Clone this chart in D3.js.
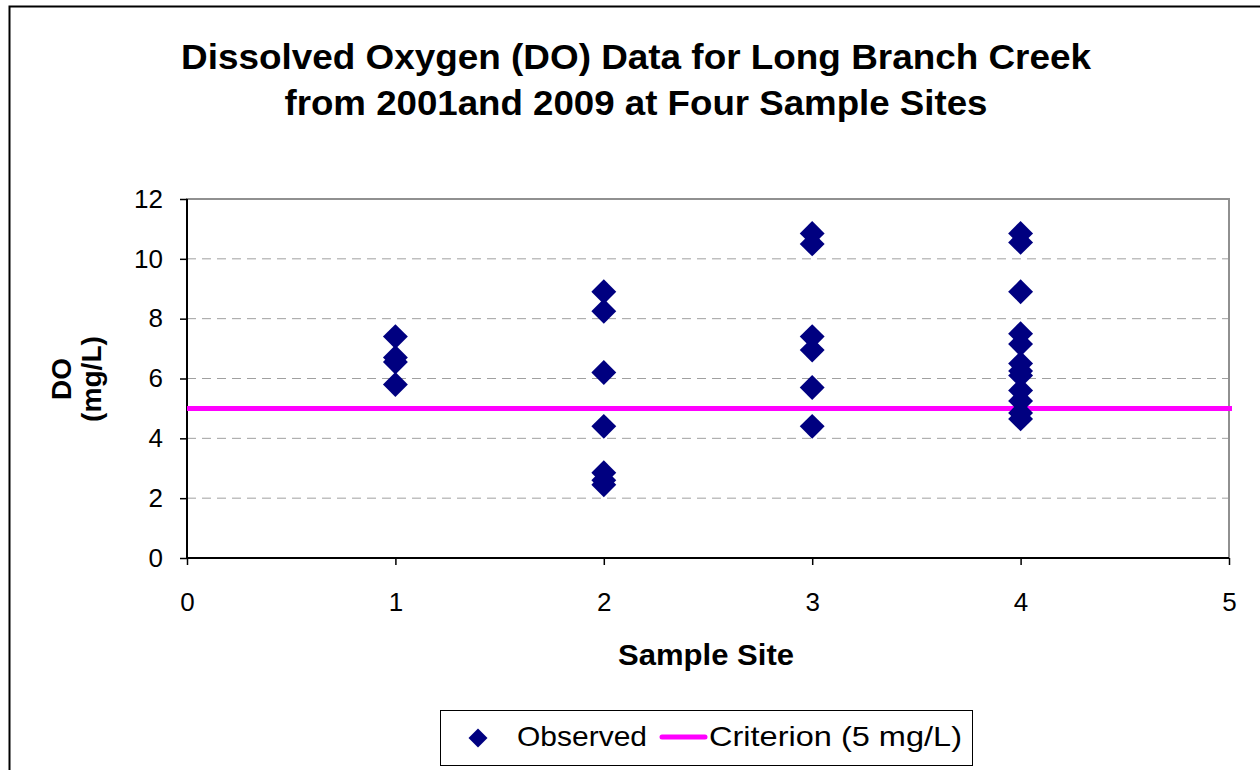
<!DOCTYPE html>
<html>
<head>
<meta charset="utf-8">
<script src="https://cdn.jsdelivr.net/npm/d3@7"></script>
<style>
  body { margin: 0; background: #fff; }
  text { font-family: "Liberation Sans", Arial, sans-serif; }
</style>
</head>
<body>
<div id="chart"></div>
<script>
const titleLines = ["Dissolved Oxygen (DO) Data for Long Branch Creek", "from 2001and 2009 at Four Sample Sites"];
const sites = [1, 1, 1, 1, 2, 2, 2, 2, 2, 2, 2, 3, 3, 3, 3, 3, 3, 4, 4, 4, 4, 4, 4, 4, 4, 4, 4, 4, 4];
const doValues = [7.4, 6.7, 6.55, 5.8, 8.9, 8.25, 6.2, 4.4, 2.85, 2.6, 2.45, 10.85, 10.5, 7.4, 6.95, 5.7, 4.4,
  10.85, 10.55, 8.9, 7.5, 7.15, 6.5, 6.25, 6.1, 5.6, 5.25, 4.85, 4.65];
const criterion = 5;
const xTicks = [0, 1, 2, 3, 4, 5];
const yTicks = [0, 2, 4, 6, 8, 10, 12];

const width = 1260, height = 770;
const plot = { left: 187, right: 1229, top: 199, bottom: 558 };

const svg = d3.select("#chart").append("svg")
  .attr("width", width)
  .attr("height", height);

// outer chart border (runs off the right/bottom edge)
svg.append("rect")
  .attr("x", 9.5).attr("y", 6.5)
  .attr("width", 1300).attr("height", 800)
  .attr("fill", "none").attr("stroke", "#000").attr("stroke-width", 2);

const x = d3.scaleLinear().domain([0, 5]).range([plot.left, plot.right]);
const y = d3.scaleLinear().domain([0, 12]).range([plot.bottom, plot.top]);

// title
const titleWidths = [910, 703];
svg.append("g").selectAll("text")
  .data(titleLines)
  .enter().append("text")
  .attr("x", 636)
  .attr("y", (d, i) => 69 + i * 46)
  .attr("text-anchor", "middle")
  .attr("textLength", (d, i) => titleWidths[i])
  .attr("lengthAdjust", "spacingAndGlyphs")
  .style("font-size", "35px")
  .style("font-weight", "bold")
  .text(d => d);

// gridlines
svg.append("g").selectAll("line")
  .data(yTicks.filter(t => t > 0 && t < 12))
  .enter().append("line")
  .attr("x1", plot.left).attr("x2", plot.right)
  .attr("y1", d => y(d)).attr("y2", d => y(d))
  .attr("stroke", "#a0a0a0")
  .attr("stroke-dasharray", "9,6");

// plot frame
svg.append("rect")
  .attr("x", plot.left).attr("y", plot.top)
  .attr("width", plot.right - plot.left).attr("height", plot.bottom - plot.top)
  .attr("fill", "none").attr("stroke", "#909090").attr("stroke-width", 2);

// axes
const yAxis = svg.append("g")
  .attr("transform", `translate(${plot.left},0)`)
  .call(d3.axisLeft(y).tickValues(yTicks).tickSize(7).tickPadding(17).tickFormat(d3.format("d")));
const xAxis = svg.append("g")
  .attr("transform", `translate(0,${plot.bottom})`)
  .call(d3.axisBottom(x).tickValues(xTicks).tickSize(7).tickPadding(27).tickFormat(d3.format("d")));
[yAxis, xAxis].forEach(a => {
  a.select(".domain").attr("stroke", "#000").attr("stroke-width", 2);
  a.selectAll(".tick line").attr("stroke", "#000").attr("stroke-width", 1.5);
  a.selectAll(".tick text")
    .style("font-family", "'Liberation Sans', Arial, sans-serif")
    .style("font-size", "26px").attr("fill", "#000");
});
xAxis.selectAll(".tick text").attr("dy", "0.72em");
xAxis.select(".domain").attr("d", `M${plot.left},0H${plot.right}`);
yAxis.select(".domain").attr("d", `M0,${plot.top}V${plot.bottom}`);

// axis titles
svg.append("text")
  .attr("x", 706).attr("y", 665)
  .attr("text-anchor", "middle")
  .attr("textLength", 176).attr("lengthAdjust", "spacingAndGlyphs")
  .style("font-size", "29px").style("font-weight", "bold")
  .text("Sample Site");
const yt = svg.append("g").attr("transform", "translate(0,379) rotate(-90)");
yt.append("text").attr("x", 0).attr("y", 71)
  .attr("text-anchor", "middle")
  .style("font-size", "28px").style("font-weight", "bold")
  .text("DO");
yt.append("text").attr("x", 0).attr("y", 101)
  .attr("text-anchor", "middle")
  .attr("textLength", 86).attr("lengthAdjust", "spacingAndGlyphs")
  .style("font-size", "28px").style("font-weight", "bold")
  .text("(mg/L)");

// criterion line
svg.append("line")
  .attr("x1", x(0)).attr("x2", plot.right + 3)
  .attr("y1", y(criterion)).attr("y2", y(criterion))
  .attr("stroke", "#ff00ff").attr("stroke-width", 5);

// observed points
const diamond = d3.symbol().type(d3.symbolSquare).size(310);
svg.append("g").selectAll("path")
  .data(doValues.map((v, i) => ({ site: sites[i], value: v })))
  .enter().append("path")
  .attr("d", diamond)
  .attr("transform", d => `translate(${x(d.site)},${y(d.value)}) rotate(45)`)
  .attr("fill", "#000080");

// legend
const legend = svg.append("g");
legend.append("rect")
  .attr("x", 440.5).attr("y", 710.5).attr("width", 532).attr("height", 55)
  .attr("fill", "#fff").attr("stroke", "#000").attr("stroke-width", 1);
legend.append("path")
  .attr("d", d3.symbol().type(d3.symbolSquare).size(180))
  .attr("transform", "translate(478,738) rotate(45)")
  .attr("fill", "#000080");
legend.append("text")
  .attr("x", 517).attr("y", 746)
  .attr("textLength", 130).attr("lengthAdjust", "spacingAndGlyphs")
  .style("font-size", "28px")
  .text("Observed");
legend.append("line")
  .attr("x1", 662).attr("x2", 705).attr("y1", 737).attr("y2", 737)
  .attr("stroke", "#ff00ff").attr("stroke-width", 5).attr("stroke-linecap", "round");
legend.append("text")
  .attr("x", 709).attr("y", 746)
  .attr("textLength", 253).attr("lengthAdjust", "spacingAndGlyphs")
  .style("font-size", "28px")
  .text("Criterion (5 mg/L)");
</script>
</body>
</html>
